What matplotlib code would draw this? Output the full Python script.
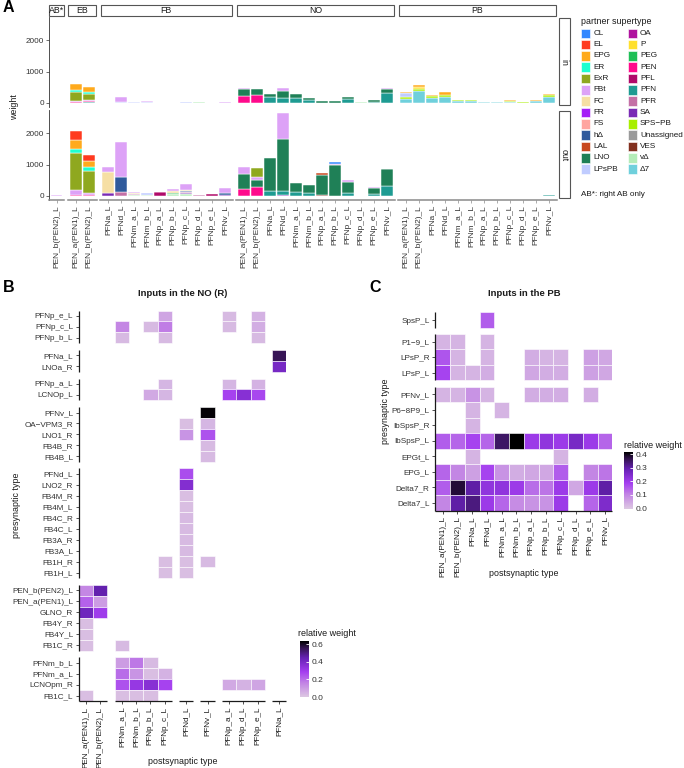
import numpy as np
import matplotlib
matplotlib.use("Agg")
import matplotlib.pyplot as plt
from matplotlib.colors import LinearSegmentedColormap, Normalize
from matplotlib.patches import Rectangle
from matplotlib.cm import ScalarMappable

plt.rcParams['font.family'] = ['Liberation Sans', 'DejaVu Sans']

# ======================= DATA: panel A =======================
supertypes = ["CL", "EL", "EPG", "ER", "ExR", "FBt", "FC", "FR", "FS", "hΔ",
              "LAL", "LNO", "LPsPB", "OA", "P", "PEG", "PEN", "PFL", "PFN",
              "PFR", "SA", "SPS−PB", "Unassigned", "VES", "vΔ", "Δ7"]
supertype_colors = ["#3388ff", "#ff3a1f", "#ffaa1c", "#1effd0", "#8fa81f",
                    "#dda2f7", "#f6dfa4", "#a51ff7", "#ffa6a0", "#2f5a9c",
                    "#c8481f", "#1f8057", "#c0ccff", "#b0139f", "#ffe02e",
                    "#1fbf57", "#ff0a8c", "#b00a69", "#1e9b92", "#c470a6",
                    "#7a2bb5", "#a8ef00", "#9a9a9a", "#82301f", "#b4ecb8",
                    "#6fd0dc"]

facet_names = ["AB*", "EB", "FB", "NO", "PB"]
AB_types = ["PEN_b(PEN2)_L"]
EB_types = ["PEN_a(PEN1)_L", "PEN_b(PEN2)_L"]
FB_types = ["PFNa_L", "PFNd_L", "PFNm_a_L", "PFNm_b_L", "PFNp_a_L", "PFNp_b_L",
            "PFNp_c_L", "PFNp_d_L", "PFNp_e_L", "PFNv_L"]
NO_types = ["PEN_a(PEN1)_L", "PEN_b(PEN2)_L"] + FB_types
PB_types = ["PEN_a(PEN1)_L", "PEN_b(PEN2)_L"] + FB_types

AB_in = {}
AB_out = {"FBt": [25]}
EB_in = {"EPG": [190, 160], "ER": [85, 55], "ExR": [270, 185],
         "FBt": [30, 25], "PEN": [40, 40], "PFN": [0, 30]}
EB_out = {"EL": [300, 215], "EPG": [300, 195], "ER": [115, 115],
          "ExR": [1175, 700], "FBt": [160, 55], "PEN": [40, 40]}
FB_in = {"FBt":   [0, 150, 10, 20, 0, 0, 0, 0, 0, 40],
         "LPsPB": [0, 30, 15, 40, 0, 0, 15, 0, 0, 0],
         "vΔ":    [0, 0, 0, 0, 0, 0, 0, 15, 0, 0]}
FB_out = {"FBt":   [160, 1130, 35, 0, 0, 70, 170, 0, 0, 170],
          "FC":    [680, 0, 20, 0, 20, 70, 40, 0, 0, 0],
          "hΔ":    [0, 475, 0, 0, 0, 0, 20, 0, 0, 60],
          "LPsPB": [0, 0, 0, 40, 0, 0, 0, 0, 0, 0],
          "PEG":   [0, 0, 10, 0, 0, 30, 20, 0, 0, 0],
          "PFL":   [0, 0, 0, 0, 120, 0, 0, 0, 50, 0],
          "PFN":   [0, 0, 0, 20, 0, 0, 0, 0, 0, 0],
          "PFR":   [0, 130, 25, 0, 0, 0, 40, 20, 10, 0],
          "SA":    [80, 0, 0, 0, 0, 0, 20, 0, 0, 20],
          "vΔ":    [0, 0, 40, 20, 0, 60, 60, 0, 0, 0]}
NO_in = {"FBt": [30, 0, 0, 75, 0, 0, 0, 0, 0, 0, 0, 30],
         "LNO": [220, 185, 120, 240, 100, 80, 50, 50, 70, 0, 60, 140],
         "PEN": [230, 265, 0, 0, 0, 0, 0, 0, 0, 0, 0, 0],
         "PFN": [0, 0, 180, 150, 170, 85, 0, 0, 110, 0, 45, 310],
         "vΔ":  [0, 0, 0, 0, 0, 0, 0, 0, 0, 35, 0, 0]}
NO_out = {"CL":  [0, 0, 0, 0, 0, 0, 0, 65, 0, 0, 0, 0],
          "ExR": [0, 280, 0, 0, 0, 0, 0, 0, 0, 0, 0, 0],
          "FBt": [210, 85, 0, 815, 0, 0, 0, 30, 40, 0, 40, 20],
          "LAL": [0, 0, 0, 0, 0, 0, 50, 0, 0, 0, 0, 0],
          "LNO": [490, 235, 1030, 1680, 280, 260, 660, 1000, 355, 0, 190, 525],
          "PEN": [210, 290, 0, 0, 0, 0, 0, 0, 0, 0, 0, 0],
          "PFN": [0, 0, 170, 135, 130, 95, 0, 0, 100, 0, 70, 325],
          "SA":  [0, 0, 0, 15, 0, 0, 0, 0, 0, 0, 0, 0],
          "VES": [0, 0, 0, 0, 0, 0, 20, 0, 0, 0, 0, 0]}
PB_in = {"EPG":    [55, 55, 30, 85, 0, 0, 0, 0, 20, 0, 20, 60],
         "LPsPB":  [115, 0, 0, 0, 0, 0, 0, 0, 0, 0, 0, 0],
         "P":      [0, 50, 0, 0, 0, 0, 0, 0, 0, 0, 0, 0],
         "SPS−PB": [65, 65, 50, 85, 55, 55, 20, 20, 20, 15, 0, 50],
         "Δ7":     [130, 390, 160, 180, 50, 50, 20, 20, 45, 0, 65, 190]}
PB_out = {"PFN": [0, 0, 0, 0, 0, 0, 0, 0, 0, 0, 0, 15]}

A_types = [AB_types, EB_types, FB_types, NO_types, PB_types]
A_in = [AB_in, EB_in, FB_in, NO_in, PB_in]
A_out = [AB_out, EB_out, FB_out, NO_out, PB_out]

# ======================= DATA: panel B =======================
B_row_groups = [["PFNp_e_L", "PFNp_c_L", "PFNp_b_L"],
                ["PFNa_L", "LNOa_R"],
                ["PFNp_a_L", "LCNOp_L"],
                ["PFNv_L", "OA−VPM3_R", "LNO1_R", "FB4B_R", "FB4B_L"],
                ["PFNd_L", "LNO2_R", "FB4M_R", "FB4M_L", "FB4C_R", "FB4C_L",
                 "FB3A_R", "FB3A_L", "FB1H_R", "FB1H_L"],
                ["PEN_b(PEN2)_L", "PEN_a(PEN1)_L", "GLNO_R", "FB4Y_R", "FB4Y_L", "FB1C_R"],
                ["PFNm_b_L", "PFNm_a_L", "LCNOpm_R", "FB1C_L"]]
B_col_groups = [["PEN_a(PEN1)_L", "PEN_b(PEN2)_L"],
                ["PFNm_a_L", "PFNm_b_L", "PFNp_b_L", "PFNp_c_L"],
                ["PFNd_L"], ["PFNv_L"],
                ["PFNp_a_L", "PFNp_d_L", "PFNp_e_L"], ["PFNa_L"]]
B_pre = ["PFNp_e_L", "PFNp_e_L", "PFNp_e_L",
         "PFNp_c_L", "PFNp_c_L", "PFNp_c_L", "PFNp_c_L", "PFNp_c_L",
         "PFNp_b_L", "PFNp_b_L", "PFNp_b_L",
         "PFNa_L", "LNOa_R",
         "PFNp_a_L", "PFNp_a_L", "PFNp_a_L",
         "LCNOp_L", "LCNOp_L", "LCNOp_L", "LCNOp_L", "LCNOp_L",
         "PFNv_L", "OA−VPM3_R", "OA−VPM3_R", "LNO1_R", "LNO1_R", "FB4B_R", "FB4B_L",
         "PFNd_L", "LNO2_R", "FB4M_R", "FB4M_L", "FB4C_R", "FB4C_L", "FB3A_R", "FB3A_L",
         "FB1H_R", "FB1H_R", "FB1H_R", "FB1H_L", "FB1H_L",
         "PEN_b(PEN2)_L", "PEN_b(PEN2)_L", "PEN_a(PEN1)_L", "PEN_a(PEN1)_L",
         "GLNO_R", "GLNO_R", "FB4Y_R", "FB4Y_L", "FB1C_R", "FB1C_R",
         "PFNm_b_L", "PFNm_b_L", "PFNm_b_L",
         "PFNm_a_L", "PFNm_a_L", "PFNm_a_L", "PFNm_a_L",
         "LCNOpm_R", "LCNOpm_R", "LCNOpm_R", "LCNOpm_R", "LCNOpm_R", "LCNOpm_R", "LCNOpm_R",
         "FB1C_L", "FB1C_L", "FB1C_L", "FB1C_L"]
B_post = ["PFNp_c_L", "PFNp_a_L", "PFNp_e_L",
          "PFNm_a_L", "PFNp_b_L", "PFNp_c_L", "PFNp_a_L", "PFNp_e_L",
          "PFNm_a_L", "PFNp_c_L", "PFNp_e_L",
          "PFNa_L", "PFNa_L",
          "PFNp_c_L", "PFNp_a_L", "PFNp_e_L",
          "PFNp_b_L", "PFNp_c_L", "PFNp_a_L", "PFNp_d_L", "PFNp_e_L",
          "PFNv_L", "PFNd_L", "PFNv_L", "PFNd_L", "PFNv_L", "PFNv_L", "PFNv_L",
          "PFNd_L", "PFNd_L", "PFNd_L", "PFNd_L", "PFNd_L", "PFNd_L", "PFNd_L", "PFNd_L",
          "PFNp_c_L", "PFNd_L", "PFNv_L", "PFNp_c_L", "PFNd_L",
          "PEN_a(PEN1)_L", "PEN_b(PEN2)_L", "PEN_a(PEN1)_L", "PEN_b(PEN2)_L",
          "PEN_a(PEN1)_L", "PEN_b(PEN2)_L", "PEN_a(PEN1)_L", "PEN_a(PEN1)_L",
          "PEN_a(PEN1)_L", "PFNm_a_L",
          "PFNm_a_L", "PFNm_b_L", "PFNp_b_L",
          "PFNm_a_L", "PFNm_b_L", "PFNp_b_L", "PFNp_c_L",
          "PFNm_a_L", "PFNm_b_L", "PFNp_b_L", "PFNp_c_L", "PFNp_a_L", "PFNp_d_L", "PFNp_e_L",
          "PEN_a(PEN1)_L", "PFNm_a_L", "PFNm_b_L", "PFNp_b_L"]
B_val = [0.08, 0.03, 0.05,
         0.15, 0.03, 0.17, 0.03, 0.06,
         0.03, 0.03, 0.03,
         0.55, 0.40,
         0.04, 0.04, 0.05,
         0.07, 0.04, 0.28, 0.36, 0.27,
         0.63, 0.02, 0.04, 0.12, 0.25, 0.03, 0.03,
         0.26, 0.37, 0.02, 0.02, 0.03, 0.03, 0.03, 0.03,
         0.02, 0.02, 0.03, 0.02, 0.02,
         0.15, 0.45, 0.22, 0.10,
         0.42, 0.30, 0.02, 0.02, 0.02, 0.03,
         0.10, 0.18, 0.03,
         0.20, 0.12, 0.02, 0.05,
         0.25, 0.32, 0.36, 0.28, 0.07, 0.05, 0.08,
         0.02, 0.02, 0.02, 0.02]

# ======================= DATA: panel C =======================
C_row_groups = [["SpsP_L"],
                ["P1−9_L", "LPsP_R", "LPsP_L"],
                ["PFNv_L", "P6−8P9_L", "IbSpsP_R", "IbSpsP_L", "EPGt_L", "EPG_L",
                 "Delta7_R", "Delta7_L"]]
C_cols = ["PEN_a(PEN1)_L", "PEN_b(PEN2)_L", "PFNa_L", "PFNd_L", "PFNm_a_L", "PFNm_b_L",
          "PFNp_a_L", "PFNp_b_L", "PFNp_c_L", "PFNp_d_L", "PFNp_e_L", "PFNv_L"]
n = None
C_weights = [
    [n, n, n, 0.15, n, n, n, n, n, n, n, n],
    [0.03, 0.03, n, 0.03, n, n, n, n, n, n, n, n],
    [0.16, 0.03, n, 0.03, n, n, 0.04, 0.03, 0.03, n, 0.06, 0.05],
    [0.18, 0.03, 0.03, 0.04, n, n, 0.05, 0.04, 0.04, n, 0.06, 0.05],
    [0.03, 0.03, 0.08, 0.03, n, n, 0.04, 0.04, 0.04, n, 0.04, n],
    [n, n, 0.03, n, 0.03, n, n, n, n, n, n, n],
    [n, n, 0.03, n, n, n, n, n, n, n, n, n],
    [0.15, 0.14, 0.18, 0.14, 0.35, 0.42, 0.20, 0.22, 0.20, 0.26, 0.20, 0.14],
    [n, n, 0.03, n, n, n, n, n, 0.03, n, n, n],
    [0.14, 0.10, 0.06, 0.18, 0.08, 0.04, 0.05, 0.05, 0.15, n, 0.10, 0.12],
    [0.15, 0.38, 0.30, 0.22, 0.22, 0.20, 0.13, 0.12, 0.20, 0.05, 0.20, 0.30],
    [0.10, 0.30, 0.33, 0.20, 0.14, 0.09, 0.08, 0.08, 0.20, n, 0.14, 0.25],
]

# ======================= FIGURE =======================
W, H = 684, 768
fig = plt.figure(figsize=(W / 100, H / 100), dpi=100)


def ax_px(x0, y0, x1, y1, **kw):
    return fig.add_axes([x0 / W, 1 - y1 / H, (x1 - x0) / W, (y1 - y0) / H], **kw)


ov = fig.add_axes([0, 0, 1, 1], zorder=20)
ov.set_xlim(0, W)
ov.set_ylim(H, 0)
ov.axis('off')
ov.patch.set_alpha(0)

TXT = '#1a1a1a'
TICK = '#333333'
color_of = dict(zip(supertypes, supertype_colors))

# ---------------- panel A ----------------
u = 13.0
gap = 3.5
x = 48.8
facet_px = []
for t in A_types:
    w = (len(t) + 0.2) * u
    facet_px.append((x, x + w))
    x += w + gap
rows_px = [(17, 107), (110, 200)]
YMIN, YMAX = -131, 2751

for fi, (types, (x0, x1)) in enumerate(zip(A_types, facet_px)):
    for ri, (data, (y0, y1)) in enumerate(zip([A_in[fi], A_out[fi]], rows_px)):
        ax = ax_px(x0, y0, x1, y1)
        xs = np.arange(len(types))
        bottom = np.zeros(len(types))
        for st in reversed(supertypes):
            if st in data:
                vals = np.array(data[st], dtype=float)
                m = vals > 0
                ax.bar(xs[m], vals[m], bottom=bottom[m], width=0.9,
                       color=color_of[st], edgecolor='white', linewidth=0.35)
                bottom += vals
        ax.set_xlim(-0.6, len(types) - 0.4)
        ax.set_ylim(YMIN, YMAX)
        for s in ['top', 'right']:
            ax.spines[s].set_visible(False)
        if fi == 0:
            ax.spines['left'].set_color('#333333')
            ax.spines['left'].set_linewidth(0.6)
            ax.set_yticks([0, 1000, 2000])
            ax.set_yticklabels(['0', '1000', '2000'])
            ax.tick_params(axis='y', length=2, width=0.5, colors='#333333',
                           labelsize=5.9, labelcolor=TICK, pad=1.5)
        else:
            ax.spines['left'].set_visible(False)
            ax.set_yticks([])
        if ri == 1:
            ax.spines['bottom'].set_color('#8a8a8a')
            ax.spines['bottom'].set_linewidth(1.1)
            ax.set_xticks(xs)
            ax.set_xticklabels(types, rotation=90)
            ax.tick_params(axis='x', length=2, width=0.5, colors='#8a8a8a',
                           labelsize=6.0, labelcolor=TICK, pad=1.5)
        else:
            ax.spines['bottom'].set_visible(False)
            ax.set_xticks([])
        ax.patch.set_alpha(0)
    # top strip
    ov.add_patch(Rectangle((x0 + 0.5, 5), x1 - x0 - 1, 11, fc='white', ec='#555555', lw=0.8))
    ov.text((x0 + x1) / 2, 10.7, facet_names[fi], ha='center', va='center',
            fontsize=6.3, color=TXT)

for (y0, y1), lab in zip(rows_px, ['in', 'out']):
    ov.add_patch(Rectangle((558.5, y0 + 0.5), 11.5, y1 - y0 - 3, fc='white', ec='#555555', lw=0.8))
    ov.text(564.2, (y0 + y1) / 2, lab, ha='center', va='center', rotation=-90,
            fontsize=6.3, color=TXT)

ov.text(15, 107, 'weight', rotation=90, ha='center', va='center', fontsize=6.4, color=TXT)

# legend
ov.text(581, 22, 'partner supertype', ha='left', va='center', fontsize=6.4, color=TXT)
for i, (st, c) in enumerate(zip(supertypes, supertype_colors)):
    col, row = divmod(i, 13)
    kx = 581 + col * 46.5
    ky = 33.3 + row * 11.33
    ov.add_patch(Rectangle((kx, ky - 4.8), 9.2, 9.6, fc=c, ec='white', lw=0.4))
    ov.text(kx + 12.5, ky, st, ha='left', va='center', fontsize=5.9, color=TXT)
ov.text(581, 194, 'AB*: right AB only', ha='left', va='center', fontsize=5.9, color=TXT)

# ---------------- heatmaps ----------------
cmap = LinearSegmentedColormap.from_list(
    'rw', [(0.0, '#dcc7e2'), (0.25, '#c283e4'), (0.45, '#a43ef0'),
           (0.7, '#6621b4'), (0.88, '#33134f'), (1.0, '#000000')])


def draw_heatmap(ax, row_groups, col_groups, cells, row_gap, col_gap, norm, labsize):
    row_pos, row_spans = {}, []
    y = 0.0
    for g in row_groups:
        s = y
        for nm in g:
            row_pos[nm] = y
            y += 1
        row_spans.append((s, y - 1))
        y += row_gap
    col_pos, col_spans = {}, []
    xx = 0.0
    for g in col_groups:
        s = xx
        for nm in g:
            col_pos[nm] = xx
            xx += 1
        col_spans.append((s, xx - 1))
        xx += col_gap
    ylast = max(row_pos.values())
    xlast = max(col_pos.values())
    for pre, post, v in cells:
        if v is None:
            continue
        ax.add_patch(Rectangle((col_pos[post] - 0.5, row_pos[pre] - 0.5), 1, 1,
                               fc=cmap(norm(v)), ec='white', lw=0.4))
    ax.set_xlim(-0.5, xlast + 0.5)
    ax.set_ylim(ylast + 0.5, -0.5)
    for s in ax.spines.values():
        s.set_visible(False)
    rn = list(row_pos.keys())
    ax.set_yticks([row_pos[k] for k in rn])
    ax.set_yticklabels(rn)
    for tl, k in zip(ax.get_yticklabels(), rn):
        tl.set_color('#b19ded' if k.startswith('FB') else TXT)
    cn = list(col_pos.keys())
    ax.set_xticks([col_pos[k] for k in cn])
    ax.set_xticklabels(cn, rotation=90)
    ax.tick_params(length=2.5, width=0.6, colors='#333333', labelsize=labsize,
                   pad=1.5)
    for tl in ax.get_xticklabels():
        tl.set_color(TXT)
    for s, e in row_spans:
        ax.plot([-0.5, -0.5], [s - 0.5, e + 0.5], color='#1a1a1a', lw=0.9,
                clip_on=False, solid_capstyle='butt')
    for s, e in col_spans:
        ax.plot([s - 0.5, e + 0.5], [ylast + 0.5, ylast + 0.5], color='#1a1a1a',
                lw=0.9, clip_on=False, solid_capstyle='butt')
    ax.patch.set_alpha(0)


# panel B
normB = Normalize(0.0, 0.635)
axB = ax_px(78.8, 310.5, 286.3, 701)
draw_heatmap(axB, B_row_groups, B_col_groups, zip(B_pre, B_post, B_val),
             0.6, 0.5, normB, 5.9)
caxB = ax_px(300, 641, 308.5, 697)
cbB = fig.colorbar(ScalarMappable(normB, cmap), cax=caxB)
cbB.set_ticks([0.0, 0.2, 0.4, 0.6])
cbB.set_ticklabels(['0.0', '0.2', '0.4', '0.6'])
cbB.outline.set_visible(False)
cbB.ax.tick_params(length=2.5, width=0.6, direction='in', colors='white',
                   labelcolor='#333333', labelsize=6.0, pad=2)
ov.text(298, 633.5, 'relative weight', ha='left', va='center', fontsize=6.5, color=TXT)
ov.text(182.5, 293, 'Inputs in the NO (R)', ha='center', va='center', fontsize=6.8,
        fontweight='bold', color=TXT)
ov.text(16.5, 505, 'presynaptic type', rotation=90, ha='center', va='center',
        fontsize=6.4, color=TXT)
ov.text(182.5, 762, 'postsynaptic type', ha='center', va='center', fontsize=6.4, color=TXT)

# panel C
normC = Normalize(0.0, 0.415)
axC = ax_px(435.3, 312.3, 612.4, 510.5)
C_cells = []
rnames = [r for g in C_row_groups for r in g]
for r, rowvals in zip(rnames, C_weights):
    for cname, v in zip(C_cols, rowvals):
        C_cells.append((r, cname, v))
draw_heatmap(axC, C_row_groups, [C_cols], C_cells, 0.4, 0.0, normC, 5.9)
caxC = ax_px(624, 452, 633, 508.5)
cbC = fig.colorbar(ScalarMappable(normC, cmap), cax=caxC)
cbC.set_ticks([0.0, 0.1, 0.2, 0.3, 0.4])
cbC.set_ticklabels(['0.0', '0.1', '0.2', '0.3', '0.4'])
cbC.outline.set_visible(False)
cbC.ax.tick_params(length=2.5, width=0.6, direction='in', colors='white',
                   labelcolor='#333333', labelsize=6.0, pad=2)
ov.text(624, 445, 'relative weight', ha='left', va='center', fontsize=6.5, color=TXT)
ov.text(523.8, 293, 'Inputs in the PB', ha='center', va='center', fontsize=6.8,
        fontweight='bold', color=TXT)
ov.text(385, 411, 'presynaptic type', rotation=90, ha='center', va='center',
        fontsize=6.4, color=TXT)
ov.text(523.8, 574, 'postsynaptic type', ha='center', va='center', fontsize=6.4, color=TXT)

# panel letters
for lab, px, py in [('A', 3, 8), ('B', 3, 288), ('C', 369, 288)]:
    ov.text(px, py, lab, ha='left', va='center', fontsize=11.5, fontweight='bold', color='black')

fig.savefig('out.png', dpi=100)
